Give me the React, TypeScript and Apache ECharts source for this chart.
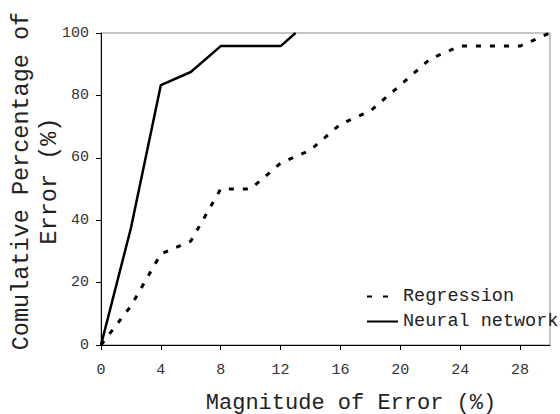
import React, { useEffect, useRef } from "react";
import * as echarts from "echarts";

const xValues = [0, 2, 4, 6, 8, 10, 12, 14, 16, 18, 20, 22, 24, 26, 28, 30];
const regressionValues = [0, 12.5, 29.2, 33.3, 50, 50, 58.3, 62.5, 70.8, 75, 83.3, 91.7, 95.8, 95.8, 95.8, 100];
const neuralX = [0, 2, 4, 6, 8, 10, 12, 13];
const neuralValues = [0, 37.5, 83.3, 87.5, 95.8, 95.8, 95.8, 100];
const seriesNames = ["Regression", "Neural network"];
const xAxisTitle = "Magnitude of Error (%)";
const yAxisTitle = "Comulative Percentage of\nError (%)";

const FONT = "'Liberation Mono', 'Courier New', monospace";

export default function App() {
  const ref = useRef<HTMLDivElement>(null);
  useEffect(() => {
    document.body.style.margin = "0";
    if (!ref.current) return;
    const chart = echarts.init(ref.current, undefined, { renderer: "svg" });
    chart.setOption({
      animation: false,
      backgroundColor: "#ffffff",
      textStyle: { fontFamily: FONT },
      grid: {
        left: 101,
        right: 10,
        top: 33,
        bottom: 69,
        outerBoundsMode: "none",
        containLabel: false,
        show: true,
        borderColor: "#8c8c8c",
        borderWidth: 1,
        backgroundColor: "transparent",
      },
      legend: {
        orient: "vertical",
        left: 366,
        top: 286,
        padding: 0,
        itemWidth: 31,
        itemHeight: 10,
        itemGap: 4,
        itemStyle: { opacity: 0 },
        textStyle: { fontFamily: FONT, fontSize: 18.5, color: "#222", lineHeight: 21 },
        data: [
          { name: seriesNames[0], lineStyle: { type: [5, 11, 5, 40] } },
          { name: seriesNames[1] },
        ],
      },
      xAxis: {
        type: "value",
        min: 0,
        max: 30,
        interval: 4,
        name: xAxisTitle,
        nameLocation: "middle",
        nameGap: 47,
        nameMoveOverlap: false,
        nameTextStyle: { fontFamily: FONT, fontSize: 22, color: "#222", padding: [0, 0, 0, 51] },
        axisLine: { show: true, lineStyle: { color: "#000", width: 1 } },
        axisTick: { show: true, length: 5, lineStyle: { color: "#000" } },
        axisLabel: { showMaxLabel: false, fontFamily: FONT, fontSize: 15, color: "#333", margin: 18 },
        splitLine: { show: false },
      },
      yAxis: {
        type: "value",
        min: 0,
        max: 100,
        interval: 20,
        name: yAxisTitle,
        nameLocation: "middle",
        nameRotate: 90,
        nameGap: 38,
        nameMoveOverlap: false,
        nameTextStyle: { fontFamily: FONT, fontSize: 23.5, color: "#222", lineHeight: 28, align: "center", padding: [0, 0, 0, 16] },
        axisLine: { show: true, lineStyle: { color: "#000", width: 1 } },
        axisTick: { show: true, length: 5, lineStyle: { color: "#000" } },
        axisLabel: { fontFamily: FONT, fontSize: 15, color: "#333", margin: 12 },
        splitLine: { show: false },
      },
      series: [
        {
          name: seriesNames[0],
          type: "line",
          data: xValues.map((x, i) => [x, regressionValues[i]]),
          symbol: "none",
          lineStyle: { color: "#000", width: 3, type: [5, 9] },
          itemStyle: { color: "#000" },
        },
        {
          name: seriesNames[1],
          type: "line",
          data: neuralX.map((x, i) => [x, neuralValues[i]]),
          symbol: "none",
          lineStyle: { color: "#000", width: 2.5, type: "solid" },
          itemStyle: { color: "#000" },
        },
      ],
    });
    return () => chart.dispose();
  }, []);
  return <div ref={ref} style={{ width: 560, height: 414 }} />;
}
